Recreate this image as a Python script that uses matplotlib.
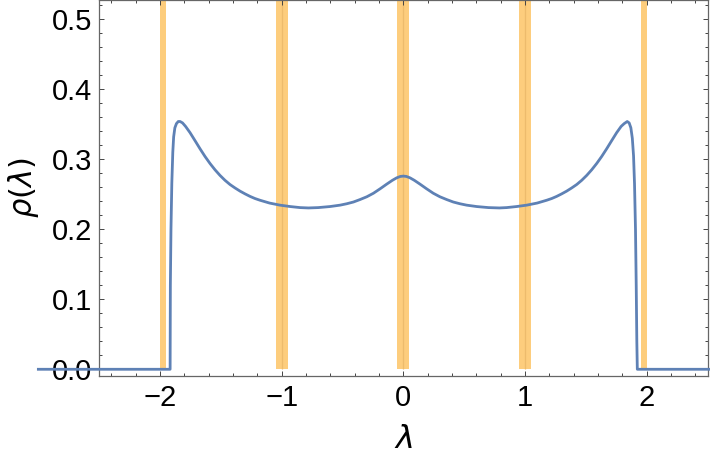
import matplotlib.pyplot as plt

plt.rcParams['font.family'] = ['Liberation Sans', 'DejaVu Sans']
plt.rcParams['mathtext.fontset'] = 'dejavusans'

# density curve
lam = [-3.00, -1.917, -1.915, -1.910, -1.903, -1.895, -1.888, -1.878, -1.865, -1.850,
       -1.835, -1.815, -1.790, -1.753, -1.710, -1.671, -1.630, -1.589, -1.548, -1.507,
       -1.466, -1.425, -1.383, -1.342, -1.300, -1.260, -1.220, -1.178, -1.100, -1.014,
       -0.930, -0.849, -0.780, -0.700, -0.603, -0.520, -0.465, -0.410, -0.356, -0.300,
       -0.246, -0.190, -0.137, -0.090, -0.055, -0.025, 0.000,
       0.025, 0.055, 0.090, 0.137, 0.190, 0.246, 0.300, 0.356, 0.410, 0.465,
       0.520, 0.603, 0.700, 0.790, 0.849, 0.930, 1.014, 1.100, 1.178, 1.220,
       1.260, 1.300, 1.342, 1.383, 1.425, 1.466, 1.507, 1.548, 1.589, 1.630,
       1.671, 1.710, 1.753, 1.790, 1.815, 1.840, 1.856, 1.870, 1.882, 1.892,
       1.900, 1.908, 1.914, 1.919, 1.923, 3.00]
rho = [0.000, 0.000, 0.120, 0.200, 0.266, 0.310, 0.332, 0.345, 0.351, 0.354,
       0.354, 0.352, 0.347, 0.338, 0.326, 0.315, 0.304, 0.294, 0.285, 0.277,
       0.270, 0.264, 0.259, 0.2545, 0.2505, 0.247, 0.244, 0.2415, 0.2375, 0.2345,
       0.2325, 0.231, 0.2305, 0.231, 0.2325, 0.2345, 0.2365, 0.239, 0.2425, 0.2465,
       0.2515, 0.258, 0.2645, 0.270, 0.2735, 0.2755, 0.276,
       0.2755, 0.2735, 0.270, 0.2645, 0.258, 0.2515, 0.2465, 0.2425, 0.239, 0.2365,
       0.2345, 0.2325, 0.231, 0.2305, 0.231, 0.2325, 0.2345, 0.2375, 0.2415, 0.244,
       0.247, 0.2505, 0.2545, 0.259, 0.264, 0.270, 0.277, 0.285, 0.294, 0.304,
       0.315, 0.326, 0.338, 0.347, 0.351, 0.354, 0.352, 0.345, 0.330, 0.305,
       0.265, 0.200, 0.120, 0.040, 0.000, 0.000]

# shaded strips (left edge, width)
band_left = [-2.0, -1.05, -1.0, -0.05, 0.0, 0.95, 1.0, 1.95]
band_width = [0.05, 0.05, 0.05, 0.05, 0.05, 0.05, 0.05, 0.05]
band_seams = [-1.0, 0.0, 1.0]

xticks = [-2, -1, 0, 1, 2]
xticklabels = ['\u22122', '\u22121', '0', '1', '2']
yticks = [0.0, 0.1, 0.2, 0.3, 0.4, 0.5]
yticklabels = ['0.0', '0.1', '0.2', '0.3', '0.4', '0.5']

fig = plt.figure(figsize=(7.10, 4.69), dpi=100)
ax = fig.add_axes([0.1397, 0.1983, 0.8568, 0.8017])

ylo, yhi = -0.0096, 0.5276
ax.bar(band_left, [yhi] * len(band_left), width=band_width, align='edge',
       color='#FDCD7D', edgecolor='none', zorder=1)
ax.vlines(band_seams, 0, yhi, color='#EDBB6C', lw=0.9, zorder=1.5)

ax.plot(lam, rho, color='#5E81B5', lw=2.0, clip_on=False, zorder=3,
        solid_joinstyle='round')

ax.set_xlim(-2.5, 2.5)
ax.set_ylim(ylo, yhi)
ax.set_xticks(xticks)
ax.set_xticklabels(xticklabels)
ax.set_yticks(yticks)
ax.set_yticklabels(yticklabels)
ax.set_xticks([v / 10 for v in range(-24, 25, 2) if v % 10 != 0], minor=True)
ax.set_yticks([v / 100 for v in range(0, 53, 2) if v % 10 != 0], minor=True)

ax.tick_params(which='both', direction='in', top=True, right=True,
               color='#444444', width=0.7)
ax.tick_params(which='major', length=3.8, labelsize=21, pad=6)
ax.tick_params(which='minor', length=2.1)
ax.tick_params(axis='y', which='major', pad=5)

for s in ax.spines.values():
    s.set_color('#666666')
    s.set_linewidth(0.9)

ax.set_xlabel(r'$\lambda$', fontsize=23, labelpad=9)
ax.set_ylabel(r'$\rho(\lambda)$', fontsize=22, labelpad=8)

plt.savefig('out.png', dpi=100)
plt.close()
